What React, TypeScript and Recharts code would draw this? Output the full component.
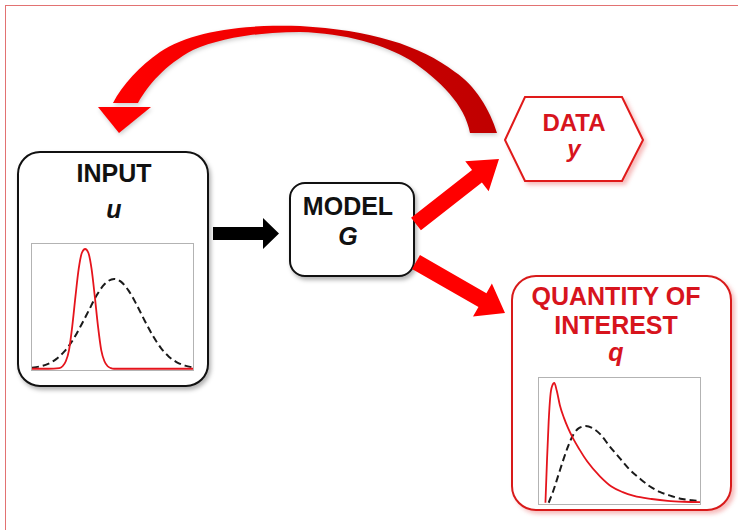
import React from 'react';
import { LineChart, Line, XAxis, YAxis } from 'recharts';

// densities: x in % of plot width, y in % of plot height
const inputPriorX = [0, 5, 10, 15, 20, 25, 30, 35, 40, 45, 51, 55, 60, 65, 70, 75, 80, 85, 90, 95, 100];
const inputPriorY = [0.8, 1.9, 3.9, 7.7, 13.7, 22.3, 33.6, 46, 58.5, 67.7, 72, 70, 62.6, 51.3, 38.5, 26.6, 16.8, 9.7, 5.2, 2.5, 1.1];
const inputPostX = [0, 10, 17, 19, 21, 23, 25, 27, 29, 31, 33, 35, 37, 39, 41, 43, 45, 47, 49, 51, 60, 100];
const inputPostY = [0, 0, 0.5, 2, 6, 15, 34, 58, 80, 93, 96, 93, 80, 58, 34, 15, 6, 2, 0.5, 0, 0, 0];

const qoiPriorX = [6, 9, 12, 15, 18, 21.5, 25, 29, 33, 38, 44, 50, 56, 63, 69, 75, 82, 89, 95, 100];
const qoiPriorY = [0, 10, 22, 34, 45, 55, 60, 61.5, 60, 55, 45, 36, 27, 19, 13, 8.7, 5.5, 3, 2, 1.5];
const qoiPostX = [4, 5, 6, 7, 8, 9.5, 11, 13, 15.5, 18, 21, 25, 30, 38, 45, 52, 59, 70, 80, 90, 100];
const qoiPostY = [0, 35, 65, 85, 93, 96, 90, 78, 68, 60, 52, 43, 33, 21, 13, 8.5, 5.5, 3, 1.5, 0.8, 0.5];

const inputLabel = ['INPUT', 'u'];
const modelLabel = ['MODEL', 'G'];
const dataLabel = ['DATA', 'y'];
const qoiLabel = ['QUANTITY OF', 'INTEREST', 'q'];

const RED = '#ff0000';
const TEXT_RED = '#d7141d';
const FONT = '"Liberation Sans", Arial, sans-serif';

const toPoints = (xs: number[], ys: number[]) => xs.map((x, i) => ({ x, y: ys[i] }));

// polygon for a straight block arrow
const arrowPoly = (sx: number, sy: number, tx: number, ty: number, shaft: number, head: number, headLen: number) => {
  const dx = tx - sx, dy = ty - sy;
  const len = Math.hypot(dx, dy);
  const ux = dx / len, uy = dy / len;
  const px = -uy, py = ux;
  const bx = tx - ux * headLen, by = ty - uy * headLen;
  const pts = [
    [sx + px * shaft / 2, sy + py * shaft / 2],
    [bx + px * shaft / 2, by + py * shaft / 2],
    [bx + px * head / 2, by + py * head / 2],
    [tx, ty],
    [bx - px * head / 2, by - py * head / 2],
    [bx - px * shaft / 2, by - py * shaft / 2],
    [sx - px * shaft / 2, sy - py * shaft / 2],
  ];
  return pts.map(p => p.join(',')).join(' ');
};

const DensityPlot: React.FC<{
  left: number; top: number;
  redX: number[]; redY: number[]; blackX: number[]; blackY: number[];
}> = ({ left, top, redX, redY, blackX, blackY }) => (
  <div style={{
    position: 'absolute', left, top, width: 163, height: 128,
    border: '1px solid #b3b3b3', boxSizing: 'border-box', background: '#fff',
  }}>
    <LineChart width={161} height={126} margin={{ top: 0, right: 0, bottom: 0, left: 0 }}>
      <XAxis type="number" dataKey="x" domain={[0, 100]} hide />
      <YAxis type="number" domain={[-1, 100]} hide />
      <Line data={toPoints(blackX, blackY)} dataKey="y" type="monotone" stroke="#1a1a1a"
        strokeWidth={2} strokeDasharray="7 4" dot={false} isAnimationActive={false} />
      <Line data={toPoints(redX, redY)} dataKey="y" type="monotone" stroke="#e5141c"
        strokeWidth={1.8} dot={false} isAnimationActive={false} />
    </LineChart>
  </div>
);

const shadow = 'drop-shadow(2px 3px 2px rgba(0,0,0,0.3))';
const pinkShadow = 'drop-shadow(3px 3px 2px rgba(230,60,60,0.35))';

export default function App() {
  const curveOuter = 'M497,133 C490,110 475,85 455,72 C420,45 370,30 300,26 C240,24 190,32 160,52 C140,66 122,85 113,103';
  const curveInner = 'L138,103 C148,85 165,65 193,50 C220,38 260,32 300,32 C345,33 385,45 410,60 C440,80 465,105 470,133 Z';
  return (
    <div style={{ position: 'absolute', left: 0, top: 0, width: 738, height: 530, background: '#fff', overflow: 'hidden', fontFamily: FONT }}>
      <svg width={738} height={530} style={{ position: 'absolute', left: 0, top: 0 }}>
        <defs>
          <linearGradient id="loopGrad" x1="0" y1="0" x2="1" y2="0" gradientUnits="objectBoundingBox">
            <stop offset="0" stopColor="#ff0000" />
            <stop offset="0.45" stopColor="#f00000" />
            <stop offset="0.65" stopColor="#c90000" />
            <stop offset="1" stopColor="#c00000" />
          </linearGradient>
        </defs>
        {/* outer frame */}
        <rect x={5.5} y={5.5} width={760} height={560} fill="none" stroke="#e27272" strokeWidth={1} />

        {/* feedback arrow */}
        <g style={{ filter: 'drop-shadow(1px 2px 2px rgba(0,0,0,0.2))' }}>
          <path d={curveOuter + ' ' + curveInner} fill="url(#loopGrad)" />
          <polygon points="98,107 151,107 119,133" fill={RED} />
        </g>

        {/* INPUT box */}
        <rect x={18} y={152} width={190} height={234} rx={22} fill="#fff" stroke="#111" strokeWidth={2} style={{ filter: shadow }} />
        <text x={114} y={182} textAnchor="middle" fontSize={25} fontWeight="bold" fill="#111">{inputLabel[0]}</text>
        <text x={114} y={218} textAnchor="middle" fontSize={25} fontWeight="bold" fontStyle="italic" fill="#111">{inputLabel[1]}</text>

        {/* black arrow */}
        <polygon points="213,227 263,227 263,218 279,233.5 263,249 263,240 213,240" fill="#000" />

        {/* MODEL box */}
        <rect x={290} y={183} width={124} height={93} rx={15} fill="#fff" stroke="#111" strokeWidth={2} style={{ filter: shadow }} />
        <text x={348} y={215} textAnchor="middle" fontSize={25} fontWeight="bold" fill="#111">{modelLabel[0]}</text>
        <text x={348} y={245} textAnchor="middle" fontSize={25} fontWeight="bold" fontStyle="italic" fill="#111">{modelLabel[1]}</text>

        {/* red arrows out of the model */}
        <polygon points={arrowPoly(416, 224, 499, 159, 16, 38, 28)} fill={RED} />
        <polygon points={arrowPoly(416, 262, 505, 313, 16, 38, 26)} fill={RED} />

        {/* DATA hexagon */}
        <polygon points="505,140 525,97 622,97 643,140 622,181 525,181" fill="#fff" stroke="#e01a1a" strokeWidth={2} style={{ filter: pinkShadow }} />
        <text x={574} y={131} textAnchor="middle" fontSize={24} fontWeight="bold" fill={TEXT_RED}>{dataLabel[0]}</text>
        <text x={574} y={157} textAnchor="middle" fontSize={24} fontWeight="bold" fontStyle="italic" fill={TEXT_RED}>{dataLabel[1]}</text>

        {/* QoI box */}
        <rect x={512} y={276} width={219} height={234} rx={24} fill="#fff" stroke="#d81a1a" strokeWidth={2} style={{ filter: pinkShadow }} />
        <text x={616} y={305} textAnchor="middle" fontSize={25} fontWeight="bold" fill={TEXT_RED}>{qoiLabel[0]}</text>
        <text x={616} y={334} textAnchor="middle" fontSize={25} fontWeight="bold" fill={TEXT_RED}>{qoiLabel[1]}</text>
        <text x={616} y={361} textAnchor="middle" fontSize={25} fontWeight="bold" fontStyle="italic" fill={TEXT_RED}>{qoiLabel[2]}</text>
      </svg>

      <DensityPlot left={31} top={243} redX={inputPostX} redY={inputPostY} blackX={inputPriorX} blackY={inputPriorY} />
      <DensityPlot left={538} top={377} redX={qoiPostX} redY={qoiPostY} blackX={qoiPriorX} blackY={qoiPriorY} />
    </div>
  );
}
